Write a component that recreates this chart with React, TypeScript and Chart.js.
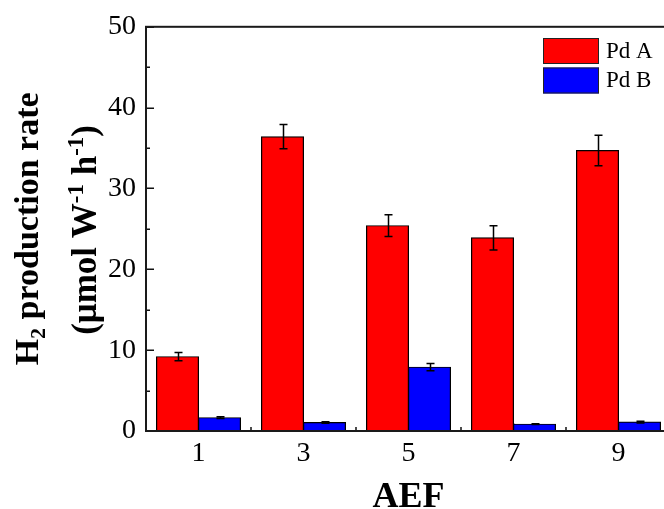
import React, { useEffect, useRef } from "react";
import { Chart, registerables } from "chart.js";

Chart.register(...registerables);

const categories = ["1", "3", "5", "7", "9"];
const seriesNames = ["Pd A", "Pd B"];
const pdA = [9.2, 36.4, 25.4, 23.9, 34.7];
const pdAErr = [0.5, 1.5, 1.35, 1.5, 1.9];
const pdB = [1.65, 1.05, 7.9, 0.85, 1.1];
const pdBErr = [0.1, 0.08, 0.45, 0.06, 0.1];
const yMin = 0;
const yMax = 50;
const yStep = 10;
const xTitle = "AEF";

const SERIF = '"Liberation Serif", "Times New Roman", serif';

type Part = { t: string; m?: "sub" | "sup" };

function drawRich(ctx: CanvasRenderingContext2D, parts: Part[], cx: number, baseY: number, size: number) {
  const fontFor = (p: Part) => `bold ${p.m ? Math.round(size * 0.66) : size}px ${SERIF}`;
  let total = 0;
  for (const p of parts) {
    ctx.font = fontFor(p);
    total += ctx.measureText(p.t).width;
  }
  let x = cx - total / 2;
  ctx.textAlign = "left";
  ctx.textBaseline = "alphabetic";
  for (const p of parts) {
    ctx.font = fontFor(p);
    const dy = p.m === "sub" ? size * 0.2 : p.m === "sup" ? -size * 0.36 : 0;
    ctx.fillText(p.t, x, baseY + dy);
    x += ctx.measureText(p.t).width;
  }
}

const framePlugin = {
  id: "framePlugin",
  beforeDatasetsDraw(chart: any) {
    const { ctx, chartArea } = chart;
    const ys = chart.scales.y;
    const xs = chart.scales.x;
    ctx.save();
    ctx.strokeStyle = "#111";
    ctx.lineWidth = 1.5;
    for (let v = yMin; v <= yMax; v += yStep / 2) {
      const y = Math.round(ys.getPixelForValue(v)) + 0.25;
      const len = v % yStep === 0 ? 8 : 4;
      ctx.beginPath();
      ctx.moveTo(chartArea.left, y);
      ctx.lineTo(chartArea.left + len, y);
      ctx.stroke();
    }
    for (let i = 0; i < categories.length; i++) {
      const x = xs.getPixelForValue(i);
      ctx.beginPath();
      ctx.moveTo(x, chartArea.bottom);
      ctx.lineTo(x, chartArea.bottom - 8);
      ctx.stroke();
      if (i < categories.length - 1) {
        const xm = (x + xs.getPixelForValue(i + 1)) / 2;
        ctx.beginPath();
        ctx.moveTo(xm, chartArea.bottom);
        ctx.lineTo(xm, chartArea.bottom - 4);
        ctx.stroke();
      }
    }
    ctx.restore();
  },
  afterDatasetsDraw(chart: any) {
    const { ctx, chartArea } = chart;
    const ys = chart.scales.y;
    const errs = [pdAErr, pdBErr];
    ctx.save();
    ctx.strokeStyle = "#000";
    ctx.lineWidth = 1.5;
    chart.data.datasets.forEach((ds: any, di: number) => {
      const meta = chart.getDatasetMeta(di);
      meta.data.forEach((bar: any, i: number) => {
        const v = ds.data[i];
        const e = errs[di][i];
        const x = Math.round(bar.x) + 0.5;
        const y1 = ys.getPixelForValue(v + e);
        const y2 = ys.getPixelForValue(v - e);
        ctx.beginPath();
        ctx.moveTo(x, y1);
        ctx.lineTo(x, y2);
        ctx.moveTo(x - 4, y1);
        ctx.lineTo(x + 4, y1);
        ctx.moveTo(x - 4, y2);
        ctx.lineTo(x + 4, y2);
        ctx.stroke();
      });
    });
    ctx.strokeStyle = "#1a1a1a";
    ctx.lineWidth = 2;
    ctx.strokeRect(chartArea.left, chartArea.top, chartArea.right - chartArea.left, chartArea.bottom - chartArea.top);
    ctx.restore();
  },
  afterDraw(chart: any) {
    const { ctx, chartArea } = chart;
    ctx.save();
    chart.data.datasets.forEach((ds: any, di: number) => {
      const bx = 543;
      const by = 38 + di * 29.5;
      ctx.fillStyle = ds.backgroundColor;
      ctx.fillRect(bx, by, 56, 26);
      ctx.strokeStyle = "#222";
      ctx.lineWidth = 1;
      ctx.strokeRect(bx + 0.5, by + 0.5, 55, 25);
      ctx.fillStyle = "#000";
      ctx.font = `23px ${SERIF}`;
      ctx.textAlign = "left";
      ctx.textBaseline = "middle";
      ctx.fillText(ds.label, 606, by + 13.5);
    });
    ctx.fillStyle = "#000";
    drawRich(ctx, [{ t: xTitle }], (chartArea.left + chartArea.right) / 2, 507, 36);
    const cy = (chartArea.top + chartArea.bottom) / 2;
    ctx.save();
    ctx.translate(38, cy);
    ctx.rotate(-Math.PI / 2);
    drawRich(ctx, [{ t: "H" }, { t: "2", m: "sub" }, { t: " production rate" }], 0, 0, 34);
    ctx.restore();
    ctx.save();
    ctx.translate(96, cy + 1);
    ctx.rotate(-Math.PI / 2);
    drawRich(
      ctx,
      [{ t: "(\u03bcmol W" }, { t: "-1", m: "sup" }, { t: " h" }, { t: "-1", m: "sup" }, { t: ")" }],
      0,
      0,
      35
    );
    ctx.restore();
    ctx.restore();
  },
};

export default function App() {
  const ref = useRef<HTMLCanvasElement | null>(null);
  useEffect(() => {
    document.body.style.margin = "0";
    document.body.style.overflow = "hidden";
    document.documentElement.style.overflow = "hidden";
    const canvas = ref.current;
    if (!canvas) return;
    const chart = new Chart(canvas, {
      type: "bar",
      data: {
        labels: categories,
        datasets: [
          {
            label: seriesNames[0],
            data: pdA,
            backgroundColor: "#ff0000",
            borderColor: "#000",
            borderWidth: 1.2,
            inflateAmount: 0.5,
          },
          {
            label: seriesNames[1],
            data: pdB,
            backgroundColor: "#0000ff",
            borderColor: "#000",
            borderWidth: 1.2,
            inflateAmount: 0.5,
          },
        ],
      },
      options: {
        responsive: false,
        animation: false,
        devicePixelRatio: 1,
        datasets: { bar: { categoryPercentage: 0.8, barPercentage: 1.0 } },
        layout: { padding: { left: 0, right: 9, top: 26, bottom: 0 } },
        plugins: { legend: { display: false }, tooltip: { enabled: false }, title: { display: false } },
        scales: {
          x: {
            offset: true,
            grid: { display: false, drawTicks: false },
            border: { display: false },
            ticks: { color: "#000", font: { family: SERIF, size: 28 }, padding: 6 },
            afterFit: (s: any) => {
              s.height = 78;
            },
          },
          y: {
            min: yMin,
            max: yMax,
            grid: { display: false, drawTicks: false },
            border: { display: false },
            ticks: { stepSize: yStep, color: "#000", font: { family: SERIF, size: 28 }, padding: 10 },
            afterFit: (s: any) => {
              s.width = 146;
            },
          },
        },
      },
      plugins: [framePlugin],
    });
    return () => chart.destroy();
  }, []);
  return (
    <div style={{ width: 664, height: 509, overflow: "hidden", position: "relative", background: "#fff" }}>
      <canvas ref={ref} width={680} height={509} style={{ display: "block" }} />
    </div>
  );
}
